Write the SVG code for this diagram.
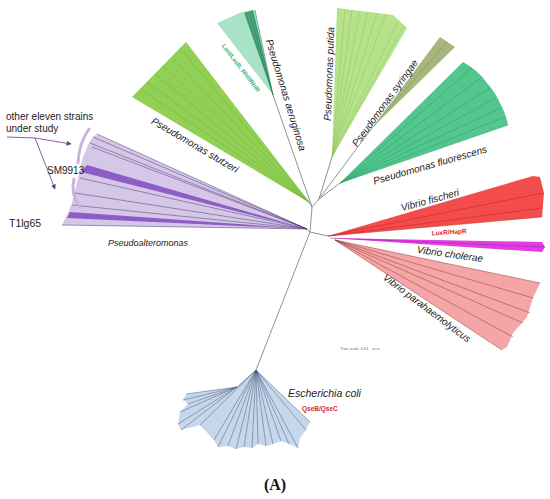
<svg xmlns="http://www.w3.org/2000/svg" width="550" height="499" viewBox="0 0 550 499">
<defs>
<marker id="ah" viewBox="0 0 10 10" refX="9" refY="5" markerWidth="5" markerHeight="5" orient="auto" markerUnits="userSpaceOnUse">
<path d="M0,0 L10,5 L0,10 z" fill="#5b3f8c"/>
</marker>
<style>
.lbl{font-family:"Liberation Sans",Arial,sans-serif;font-style:italic;font-size:10px;fill:#222;text-anchor:middle}
.lbls{font-family:"Liberation Sans",Arial,sans-serif;font-style:italic;fill:#222;text-anchor:start}
.gene{font-family:"Liberation Sans",Arial,sans-serif;font-weight:bold}
.plain{font-family:"Liberation Sans",Arial,sans-serif;font-size:10px;fill:#222}
.br{stroke:#777;stroke-width:0.8;fill:none}
.ln{stroke-width:0.5;fill:none}
</style>
</defs>
<rect width="550" height="499" fill="#fff"/>

<g id="connectors">
<path class="br" d="M310,232 L307,229 M310,232 L328,236 M310,232 L256,370 M310,232 L312,207 L310,203 M312,207 L273,95 M312,207 L319,199 L332,157 M319,199 L340,183 M319,199 L372,128"/>
<path d="M7,137 L35,138" stroke="#5b3f8c" stroke-width="0.8" fill="none"/>
<path d="M35,138 L71,144" stroke="#5b3f8c" stroke-width="0.8" fill="none" marker-end="url(#ah)"/>
<path d="M35,138 L55,189" stroke="#5b3f8c" stroke-width="0.8" fill="none" marker-end="url(#ah)"/>
</g>

<g id="pseudoalteromonas">
<polygon points="307,229 97,134 92,138 88,145 83,157 80,170 75,190 72,203 67,215 62,225" fill="#d6c7e8"/>
<polygon points="307,229 87,165 81,172" fill="#8d5cc4"/>
<polygon points="307,229 70,212 67,218" fill="#8d5cc4"/>
<g class="ln" stroke="#4b3a6e">
<path d="M307,229 L97,134 M307,229 L93,137 M307,229 L90,143 M307,229 L92,147 M307,229 L80,178 M307,229 L75,193 M307,229 L72,205 M307,229 L62,225"/>
</g>
<path d="M89,129 Q79,143 78,163" stroke="#c9b3de" stroke-width="3" fill="none" stroke-linecap="round"/>
<path d="M74,179 Q70,194 80,207" stroke="#c9b3de" stroke-width="3" fill="none" stroke-linecap="round"/>
<text class="plain" x="6" y="120">other eleven strains</text>
<text class="plain" x="6" y="132">under study</text>
<text class="plain" x="47" y="174">SM9913</text>
<text class="plain" x="9" y="227" style="font-size:10.5px">T1lg65</text>
<text class="lbls" x="108" y="246" style="font-size:9px">Pseudoalteromonas</text>
</g>

<g id="stutzeri">
<polygon points="310,203 186,42 132,97" fill="#92cf55"/>
<g class="ln" stroke="#72b03d">
<path d="M310,203 L180,48 M310,203 L172,57 M310,203 L163,66 M310,203 L155,74 M310,203 L147,82 M310,203 L140,89"/>
</g>
<text class="lbl" transform="translate(195,145) rotate(30.5)" dy="0.35em">Pseudomonas stutzeri</text>
</g>

<g id="aeruginosa">
<polygon points="273,95 217,23 242,12 255,10" fill="#a8e3c7"/>
<polygon points="273,95 244,13 253,10" fill="#4ea57c"/>
<g class="ln" stroke="#2c7a52">
<path d="M273,95 L246,12 M273,95 L249,11 M273,95 L252,10 M273,95 L255,10"/>
</g>
<text class="gene" fill="#35b385" style="font-size:6px;text-anchor:middle" transform="translate(241,68) rotate(52.5)" dy="0.35em">LasI/LasR, RhlI/RhlR</text>
<text class="lbl" transform="translate(286,95) rotate(73)" dy="0.35em">Pseudomonas aeruginosa</text>
</g>

<g id="putida">
<polygon points="332,157 337,8 393,15 407,28" fill="#b7e28c"/>
<g class="ln" stroke="#8cc35f">
<path d="M332,157 L345,9 M332,157 L352,10 M332,157 L360,11 M332,157 L368,12 M332,157 L377,13 M332,157 L386,14 M332,157 L399,20 M332,157 L404,25"/>
</g>
<text class="lbl" transform="translate(329,74) rotate(-88)" dy="0.35em">Pseudomonas putida</text>
</g>

<g id="syringae">
<polygon points="372,128 440,37 455,47" fill="#a6b67c"/>
<path class="ln" stroke="#7e8f55" d="M372,128 L447,42"/>
<text class="lbl" transform="translate(385,103) rotate(-54)" dy="0.35em">Pseudomonas syringae</text>
</g>

<g id="fluorescens">
<path d="M340,183 L463,62 Q478,70 487,83 Q495,92 500,103 Q506,114 508,125 Z" fill="#52c68c"/>
<g class="ln" stroke="#2f9c66">
<path d="M340,183 L472,68 M340,183 L482,77 M340,183 L490,88 M340,183 L496,98 M340,183 L501,108 M340,183 L505,117 M340,183 L508,125"/>
</g>
<text class="lbl" transform="translate(430,165) rotate(-16)" dy="0.35em">Pseudomonas fluorescens</text>
</g>

<g id="fischeri">
<polygon points="328,236 533,176 540,177 544,193 542,217" fill="#f24c4c"/>
<g class="ln" stroke="#c42222">
<path d="M328,236 L543,193 M328,236 L542,208 M328,236 L542,217"/>
</g>
<text class="lbl" transform="translate(430,200) rotate(-15.5)" dy="0.35em">Vibrio fischeri</text>
<text class="gene" fill="#d02a2a" style="font-size:6.5px;text-anchor:middle" transform="translate(449,232) rotate(-4)" dy="0.35em">LuxR/HapR</text>
</g>

<g id="cholerae">
<polygon points="330,238 542,242 545,247 542,252" fill="#e23ce2"/>
<path class="ln" stroke="#a020a0" d="M330,238 L545,247"/>
<text class="lbl" transform="translate(450,254) rotate(8)" dy="0.35em">Vibrio cholerae</text>
</g>

<g id="parahaemolyticus">
<polygon points="335,240 540,283 533,298 527,317 513,333 507,347 502,350" fill="#f5a5a5"/>
<g class="ln" stroke="#8a3a3a">
<path d="M335,240 L540,283 M335,240 L533,298 M335,240 L530,313 M335,240 L523,323 M335,240 L513,337 M335,240 L502,350"/>
</g>
<text class="lbl" transform="translate(427,308) rotate(37)" dy="0.35em">Vibrio parahaemolyticus</text>
</g>

<g id="ecoli">
<polygon points="256,370 237,387 186,394 183,400 188,404 180,412 178,424 181,430 200,425 214,440 218,447 228,446 236,449 244,447 252,448 258,444 266,446 273,444 281,441 289,444 298,448 300,438 306,430 310,422" fill="#c6d6eb"/>
<g class="ln" stroke="#4a5a7c" stroke-width="0.4">
<path d="M237,387 L186,394 M237,387 L183,400 M237,387 L188,404 M237,387 L180,412 M237,387 L178,424 M237,387 L181,430 M256,370 L237,387 M256,370 L200,425 M256,370 L214,440 M256,370 L218,447 M256,370 L228,446 M256,370 L236,449 M256,370 L244,447 M256,370 L252,448 M256,370 L258,444 M256,370 L266,446 M256,370 L273,444 M256,370 L281,441 M256,370 L289,444 M256,370 L298,448 M256,370 L306,430 M256,370 L310,422"/>
</g>
<text class="lbls" x="288" y="397" style="font-size:10.5px">Escherichia coli</text>
<text class="gene" x="302" y="411" fill="#d02a2a" style="font-size:6.5px">QseB/QseC</text>
</g>

<g id="scale">
<text x="340" y="350" font-family="Liberation Sans, Arial, sans-serif" font-size="4" fill="#666">Tree scale: 0.01</text>
<path d="M373,349 L379,349 M373,348 L373,350 M379,348 L379,350" stroke="#666" stroke-width="0.5"/>
</g>

<text x="275" y="490" font-family="Liberation Serif, Times New Roman, serif" font-weight="bold" font-size="16" text-anchor="middle" fill="#111">(A)</text>
</svg>
